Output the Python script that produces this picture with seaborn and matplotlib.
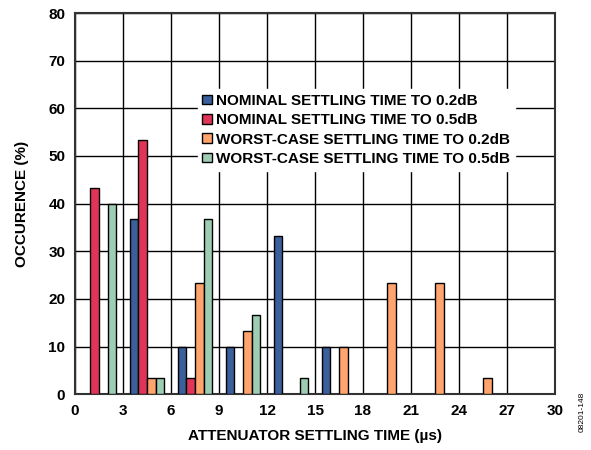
import pandas as pd
import numpy as np
import seaborn as sns
import matplotlib
matplotlib.use("Agg")
import matplotlib.pyplot as plt

# Data: percent of occurrences per 3 us bin
bin_centers = [1.5, 4.5, 7.5, 10.5, 13.5, 16.5, 19.5, 22.5, 25.5, 28.5]
nominal_02 = [0, 36.7, 10.0, 10.0, 33.3, 10.0, 0, 0, 0, 0]
nominal_05 = [43.3, 53.3, 3.3, 0, 0, 0, 0, 0, 0, 0]
worst_02 = [0, 3.3, 23.3, 13.3, 0, 10.0, 23.3, 23.3, 3.3, 0]
worst_05 = [40.0, 3.3, 36.7, 16.7, 3.3, 0, 0, 0, 0, 0]

series_names = [
    "NOMINAL SETTLING TIME TO 0.2dB",
    "NOMINAL SETTLING TIME TO 0.5dB",
    "WORST-CASE SETTLING TIME TO 0.2dB",
    "WORST-CASE SETTLING TIME TO 0.5dB",
]
colors = ["#3A5F9A", "#E03558", "#FFA46C", "#9DCDB3"]

rows = []
for name, vals in zip(series_names, [nominal_02, nominal_05, worst_02, worst_05]):
    for x, v in zip(bin_centers, vals):
        if v > 0:
            rows.append({"time": x, "series": name, "pct": v})
df = pd.DataFrame(rows)

plt.rcParams['font.family'] = ['Liberation Sans', 'DejaVu Sans']
plt.rcParams['font.weight'] = 'bold'

fig = plt.figure(figsize=(5.91, 4.5), dpi=100)
ax = fig.add_axes([0.127, 0.124, 0.812, 0.847])

sns.barplot(data=df, x="time", y="pct", hue="series", hue_order=series_names,
            palette=colors, saturation=1, native_scale=True, width=0.72, dodge=True,
            edgecolor="black", linewidth=1.0, ax=ax, zorder=3)

ax.set_xlim(0, 30)
ax.set_ylim(0, 80)
ax.set_xticks(np.arange(0, 31, 3))
ax.set_yticks(np.arange(0, 81, 10))
ax.grid(True, color="black", linewidth=1.0, zorder=0)
ax.set_axisbelow(True)
ax.tick_params(length=0, labelsize=11, pad=7)
for lab in ax.get_xticklabels() + ax.get_yticklabels():
    lab.set_fontweight('bold')
for s in ax.spines.values():
    s.set_linewidth(1.5)
    s.set_color("#333333")

ax.set_xlabel("ATTENUATOR SETTLING TIME (µs)", fontsize=11, fontweight='bold', labelpad=8)
ax.set_ylabel("OCCURENCE (%)", fontsize=11, fontweight='bold', labelpad=14)

leg = ax.legend(loc="upper left", bbox_to_anchor=(0.24, 0.82), frameon=True,
                fancybox=False, framealpha=1.0, edgecolor="white",
                prop={'weight': 'bold', 'size': 11}, handlelength=0.6,
                handleheight=0.6, handletextpad=0.3, labelspacing=0.35,
                borderpad=0.3)
leg.set_zorder(5)

fig.text(0.985, 0.085, "08201-148", rotation=90, fontsize=6, fontweight='normal',
         ha="center", va="center")

plt.savefig("out.png", dpi=100)
